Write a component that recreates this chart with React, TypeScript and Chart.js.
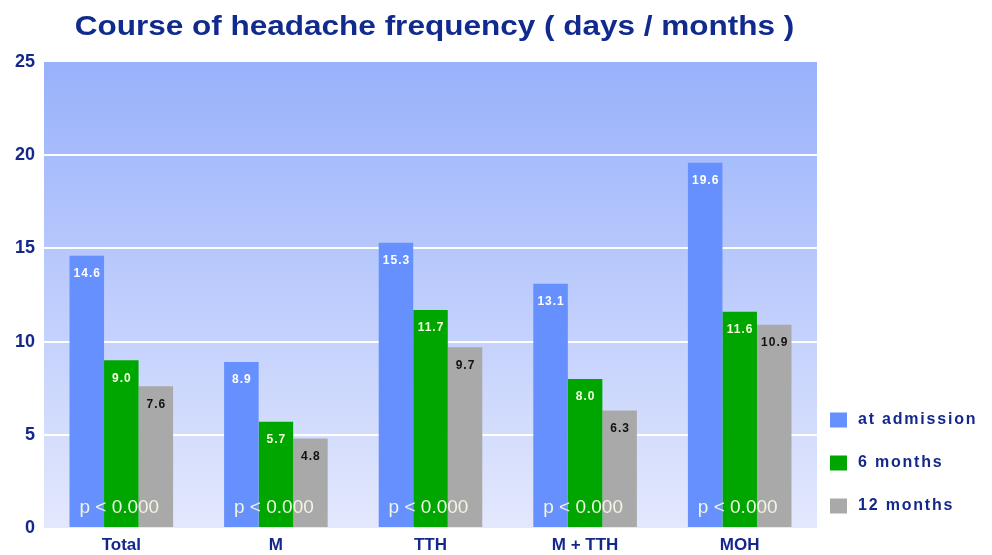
import React, { useEffect, useRef } from "react";
import { Chart, registerables } from "chart.js";

Chart.register(...registerables);

const categories = ["Total", "M", "TTH", "M + TTH", "MOH"];
const seriesNames = ["at admission", "6 months", "12 months"];
const atAdmission = [14.6, 8.9, 15.3, 13.1, 19.6];
const sixMonths = [9.0, 5.7, 11.7, 8.0, 11.6];
const twelveMonths = [7.6, 4.8, 9.7, 6.3, 10.9];
const pLabels = ["p < 0.000", "p < 0.000", "p < 0.000", "p < 0.000", "p < 0.000"];
const yTicks = [0, 5, 10, 15, 20, 25];
const titleText = "Course of headache frequency ( days / months )";

const barColors = ["#6690fd", "#00a600", "#a9a9a9"];
const valueColors = ["#ffffff", "#f4ffe0", "#111111"];
const navy = "#14288c";
const FONT = "'Liberation Sans', Arial, sans-serif";

const bgPlugin = {
  id: "bgGradient",
  beforeDraw(chart: any) {
    const { ctx, chartArea } = chart;
    if (!chartArea) return;
    const g = ctx.createLinearGradient(0, chartArea.top, 0, chartArea.bottom);
    g.addColorStop(0, "#98b1fb");
    g.addColorStop(1, "#e3e8fd");
    ctx.save();
    ctx.fillStyle = g;
    ctx.fillRect(chartArea.left, chartArea.top, chartArea.right - chartArea.left, chartArea.bottom - chartArea.top);
    ctx.restore();
  },
};

const labelsPlugin = {
  id: "valueLabels",
  afterDatasetsDraw(chart: any) {
    const { ctx, chartArea } = chart;
    ctx.save();
    ctx.textAlign = "center";
    ctx.textBaseline = "middle";
    (ctx as any).letterSpacing = "1px";
    chart.data.datasets.forEach((ds: any, di: number) => {
      const meta = chart.getDatasetMeta(di);
      meta.data.forEach((bar: any, i: number) => {
        ctx.font = `bold 12px ${FONT}`;
        ctx.fillStyle = valueColors[di];
        const v = ds.data[i] as number;
        ctx.fillText(v.toFixed(1), bar.x + 0.5, bar.y + 18);
      });
    });
    // p labels
    (ctx as any).letterSpacing = "0px";
    const xs = chart.scales.x;
    ctx.font = `19px ${FONT}`;
    ctx.fillStyle = "#f2f5e4";
    pLabels.forEach((t, i) => {
      ctx.fillText(t, xs.getPixelForValue(i) - 2, chartArea.bottom - 20);
    });
    // legend
    ctx.textAlign = "left";
    ctx.font = `bold 16px ${FONT}`;
    (ctx as any).letterSpacing = "1.8px";
    const n = chart.data.datasets.length;
    chart.data.datasets.forEach((ds: any, di: number) => {
      const cy = chartArea.bottom - 22 - (n - 1 - di) * 43;
      ctx.fillStyle = barColors[di];
      ctx.fillRect(chartArea.right + 13, cy - 7.5, 17, 15);
      ctx.fillStyle = navy;
      ctx.fillText(ds.label, chartArea.right + 41, cy);
    });
    // title (horizontally widened like the reference)
    (ctx as any).letterSpacing = "0px";
    ctx.textAlign = "center";
    ctx.font = `bold 28px ${FONT}`;
    ctx.fillStyle = "#102a8e";
    ctx.translate((chartArea.left + chartArea.right) / 2 + 4, 27);
    ctx.scale(1.125, 1);
    ctx.fillText(titleText, 0, 0);
    ctx.restore();
  },
};

export default function App() {
  const ref = useRef<HTMLCanvasElement>(null);
  useEffect(() => {
    document.body.style.margin = "0";
    document.body.style.overflow = "hidden";
    const chart = new Chart(ref.current!, {
      type: "bar",
      data: {
        labels: categories,
        datasets: [atAdmission, sixMonths, twelveMonths].map((d, i) => ({
          label: seriesNames[i],
          data: d,
          backgroundColor: barColors[i],
          borderWidth: 0,
          categoryPercentage: 0.67,
          barPercentage: 1.0,
        })),
      },
      options: {
        animation: false,
        responsive: false,
        maintainAspectRatio: false,
        layout: { padding: { left: 15, right: 175, top: 62, bottom: 0 } },
        plugins: {
          legend: { display: false },
          tooltip: { enabled: false },
          title: { display: false },
        },
        scales: {
          x: {
            afterFit: (s: any) => {
              s.height = 27;
            },
            grid: { display: false, drawTicks: false },
            border: { display: false },
            ticks: {
              color: navy,
              padding: 7,
              font: { family: FONT, size: 17, weight: "bold" },
            },
          },
          y: {
            min: 0,
            max: 25,
            afterFit: (s: any) => {
              s.width = 29;
            },
            afterBuildTicks: (s: any) => {
              s.ticks = yTicks.map((v) => ({ value: v }));
            },
            grid: {
              drawTicks: false,
              lineWidth: 2,
              color: (c: any) => (c.tick && (c.tick.value === 0 || c.tick.value === 25) ? "rgba(0,0,0,0)" : "#ffffff"),
            },
            border: { display: false },
            ticks: {
              color: navy,
              padding: 9,
              font: { family: FONT, size: 18, weight: "bold" },
            },
          },
        },
      },
      plugins: [bgPlugin, labelsPlugin],
    });
    return () => chart.destroy();
  }, []);
  return <canvas ref={ref} width={992} height={555} style={{ display: "block" }} />;
}
